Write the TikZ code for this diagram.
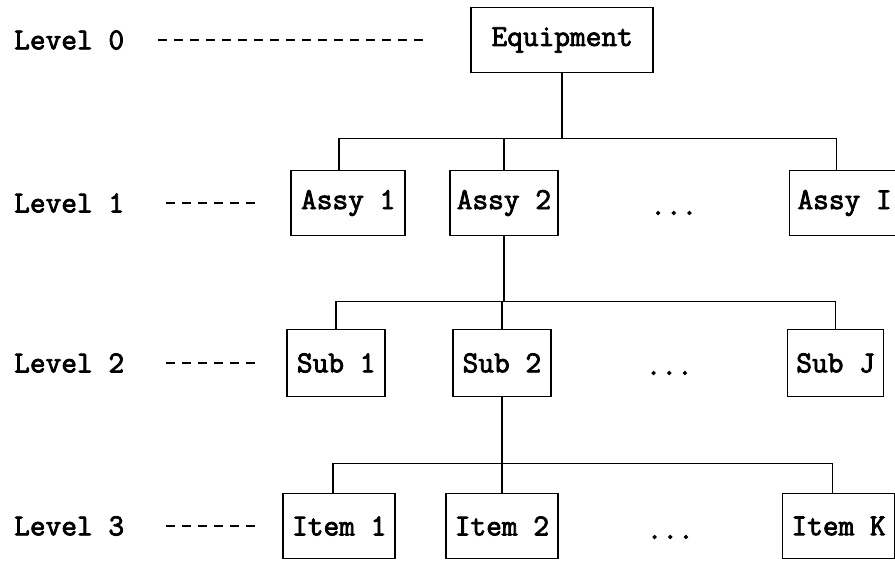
\documentclass[tikz,border=0pt]{standalone}
\usepackage{fontspec}
\newfontfamily\chartfont{Latin Modern Mono}[FakeBold=2.6]
\usetikzlibrary{positioning,calc}

\begin{document}
\begin{tikzpicture}[
    x=1pt, y=-1pt,
    every node/.style={font=\chartfont\fontsize{30.5}{34}\selectfont},
    unit/.style={draw, line width=1.7pt, minimum height=65pt, inner sep=0pt},
    level/.style={anchor=west, inner sep=0pt},
    dots/.style={inner sep=0pt},
    leader/.style={line width=2.6pt, dash pattern=on 9pt off 7pt},
    link/.style={line width=1.6pt}
  ]
  \useasboundingbox (0,0) rectangle (895,571);

  % level labels
  \node[level] (lv0) at (14,40) {Level 0};
  \node[level] (lv1) at (14,203) {Level 1};
  \node[level] (lv2) at (14,363) {Level 2};
  \node[level] (lv3) at (14,526) {Level 3};

  % level 0
  \node[unit, minimum width=182pt, right=346pt of lv0] (eq) {Equipment};

  % level 1
  \node[unit, minimum width=114pt, right=166pt of lv1] (a1) {Assy 1};
  \node[unit, minimum width=108pt, right=43pt of a1] (a2) {Assy 2};
  \node[unit, minimum width=110pt, right=230pt of a2] (aI) {Assy I};
  \node[dots] (d1) at ($(a2.east)!0.5!(aI.west)+(0,10)$) {...};

  % level 2
  \node[unit, minimum width=98pt, minimum height=67pt, right=162pt of lv2] (s1) {Sub 1};
  \node[unit, minimum width=98pt, minimum height=67pt, right=66pt of s1] (s2) {Sub 2};
  \node[unit, minimum width=96pt, minimum height=67pt, right=235pt of s2] (sJ) {Sub J};
  \node[dots] (d2) at ($(s2.east)!0.5!(sJ.west)+(0,10)$) {...};

  % level 3
  \node[unit, minimum width=112pt, right=158pt of lv3] (i1) {Item 1};
  \node[unit, minimum width=112pt, right=49pt of i1] (i2) {Item 2};
  \node[unit, minimum width=112pt, right=223pt of i2] (iK) {Item K};
  \node[dots] (d3) at ($(i2.east)!0.5!(iK.west)+(0,11)$) {...};

  % leaders
  \draw[leader, shorten <=34pt, shorten >=44pt] (lv0) -- (eq);
  \draw[leader, shorten <=42pt, shorten >=29pt] (lv1) -- (a1);
  \draw[leader, shorten <=42pt, shorten >=25pt] (lv2) -- (s1);
  \draw[leader, shorten <=42pt, shorten >=21pt] (lv3) -- (i1);

  % tree
  \coordinate (t1) at ($(eq.south)+(0,65)$);
  \draw[link] (eq.south) -- (t1);
  \draw[link] ([xshift=-9pt]a1.north) |- (t1) -| ([xshift=-8pt]aI.north);
  \draw[link] (a2.north |- t1) -- (a2.north);

  \coordinate (t2) at ($(a2.south)+(0,65)$);
  \draw[link] (a2.south) -- (t2);
  \draw[link] (s1.north) |- (t2) -| (sJ.north);
  \draw[link] (s2.north |- t2) -- (s2.north);

  \coordinate (t3) at ($(s2.south)+(0,66)$);
  \draw[link] (s2.south) -- (t3);
  \draw[link] ([xshift=-6pt]i1.north) |- (t3) -| ([xshift=-6pt]iK.north);
  \draw[link] (i2.north |- t3) -- (i2.north);
\end{tikzpicture}
\end{document}
